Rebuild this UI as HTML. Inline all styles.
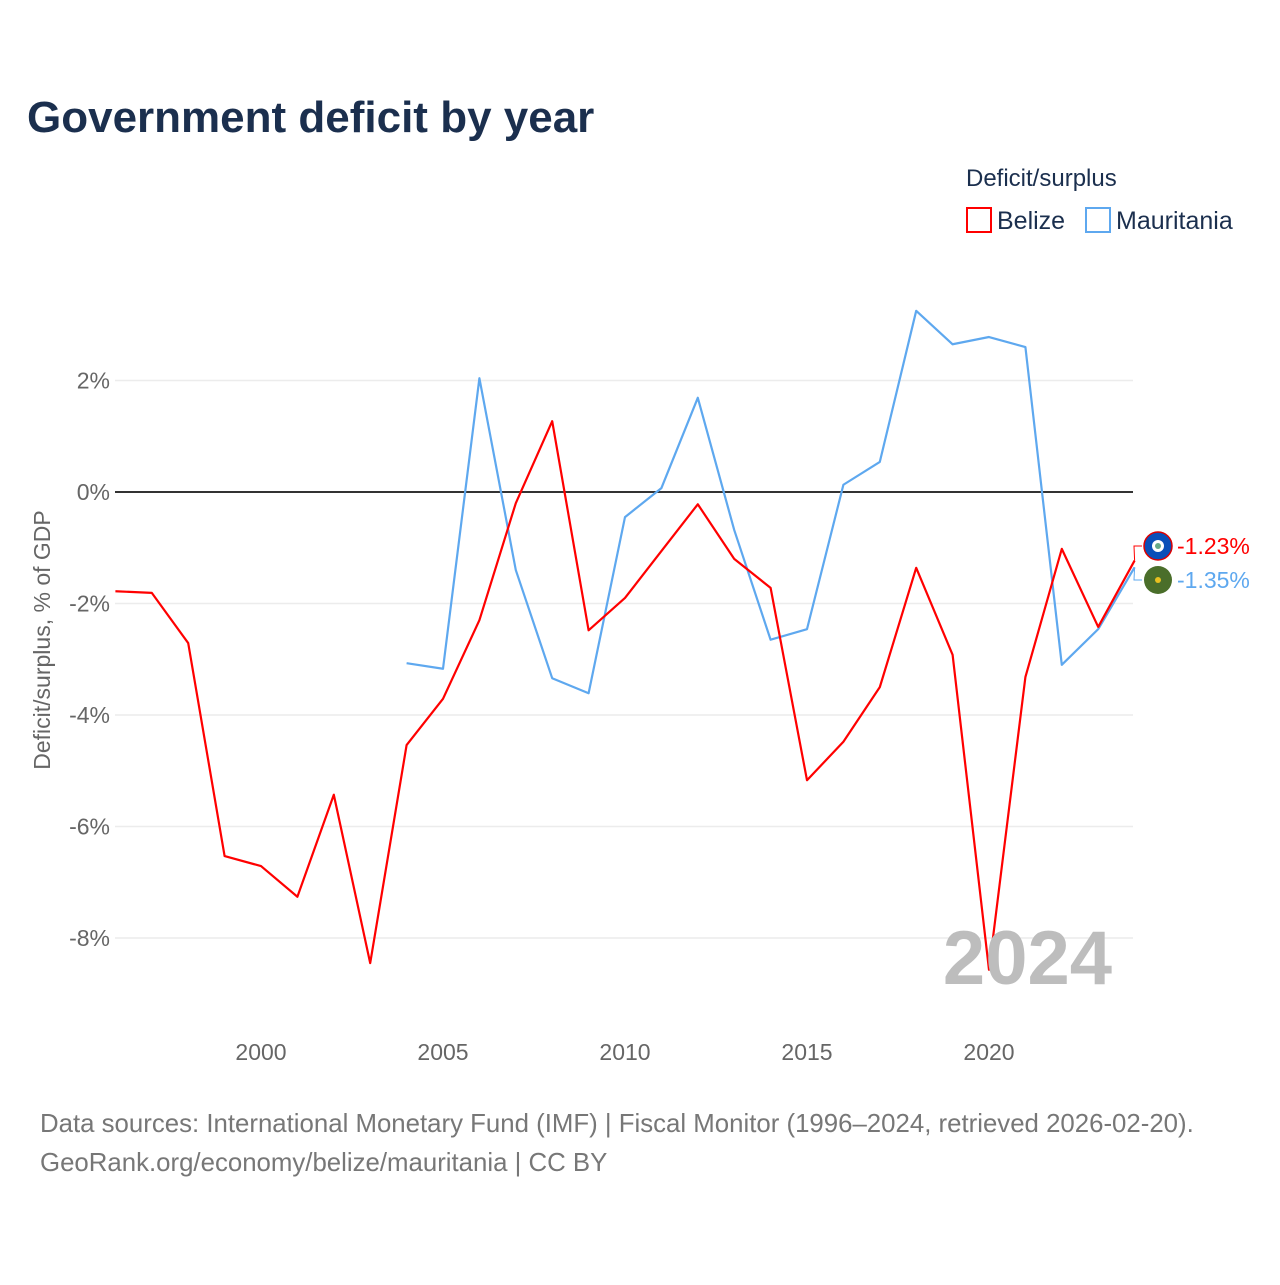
<!DOCTYPE html>
<html><head><meta charset="utf-8">
<style>
body{margin:0;background:#fff;font-family:"Liberation Sans",sans-serif;}
svg text{font-family:"Liberation Sans",sans-serif;}
</style></head>
<body>
<svg id="chart" width="1280" height="1280" viewBox="0 0 1280 1280">
<text x="27" y="132" font-size="44" font-weight="bold" fill="#1b2f4e">Government deficit by year</text>
<text x="966" y="186" font-size="24" fill="#1b2f4e">Deficit/surplus</text>
<g><rect x="967" y="208" width="24" height="24" fill="none" stroke="#ff0000" stroke-width="2"/><text x="997" y="229" font-size="25" fill="#1b2f4e">Belize</text></g>
<g><rect x="1086" y="208" width="24" height="24" fill="none" stroke="#5ea8ef" stroke-width="2"/><text x="1116" y="229" font-size="25" fill="#1b2f4e">Mauritania</text></g>
<text transform="translate(50,640) rotate(-90)" text-anchor="middle" font-size="23" fill="#666">Deficit/surplus, % of GDP</text>
<g id="grid"></g><g id="series"></g>
<text x="1112" y="984" text-anchor="end" font-size="76" font-weight="bold" fill="#bdbdbd">2024</text>
<text x="40" y="1132" font-size="25.8" fill="#777">Data sources: International Monetary Fund (IMF) | Fiscal Monitor (1996–2024, retrieved 2026-02-20).</text>
<text x="40" y="1171" font-size="25.8" fill="#777">GeoRank.org/economy/belize/mauritania | CC BY</text>
</svg>
<script>
const years=[];for(let y=1996;y<=2024;y++)years.push(y);
const belize=[-1.78,-1.81,-2.71,-6.53,-6.71,-7.26,-5.43,-8.45,-4.54,-3.71,-2.30,-0.20,1.27,-2.48,-1.90,-1.06,-0.22,-1.20,-1.72,-5.17,-4.48,-3.50,-1.36,-2.92,-8.57,-3.32,-1.02,-2.42,-1.23];
const mauritania=[null,null,null,null,null,null,null,null,-3.07,-3.17,2.04,-1.40,-3.34,-3.61,-0.45,0.07,1.69,-0.68,-2.65,-2.46,0.13,0.54,3.25,2.65,2.78,2.60,-3.10,-2.46,-1.35];
const yTicks=[2,0,-2,-4,-6,-8];
const xTicks=[2000,2005,2010,2015,2020];
const X=y=>115.4+(y-1996)*36.4;
const Y=v=>492-v*55.75;
const NS="http://www.w3.org/2000/svg";
function mk(t,a,p){const e=document.createElementNS(NS,t);for(const k in a)e.setAttribute(k,a[k]);p.appendChild(e);return e;}
const g=document.getElementById('grid'),s=document.getElementById('series');
yTicks.forEach(v=>{
 const l=mk('line',{x1:115,x2:1133,y1:Y(v),y2:Y(v),stroke:v===0?'#333':'#ececec','stroke-width':v===0?2:1.5},g);
 
 
 const t=mk('text',{x:110,y:Y(v)+8,'text-anchor':'end','font-size':23,fill:'#666'},g);t.textContent=v+'%';
 
 
});
xTicks.forEach(v=>{
 const t=mk('text',{x:X(v),y:1060,'text-anchor':'middle','font-size':23,fill:'#666'},g);t.textContent=v;
 
 
});
function line(data,color,name){
 let d='';data.forEach((v,i)=>{if(v===null)return;d+=(d?'L':'M')+X(years[i])+','+Y(v);});
 const p=mk('path',{d:d,fill:'none',stroke:color,'stroke-width':2.2,'stroke-linejoin':'round'},s);
 
 
}
line(mauritania,'#5ea8ef','mauritania-line');
line(belize,'#ff0000','belize-line');
const lb=belize[belize.length-1],lm=mauritania[mauritania.length-1];
const yb=546,ym=580;
mk('path',{d:`M${X(2024)},${Y(lb)} L1134,${yb} L1142,${yb}`,fill:'none',stroke:'#ff0000','stroke-width':1},s);
mk('path',{d:`M${X(2024)},${Y(lm)} L1134,${ym} L1142,${ym}`,fill:'none',stroke:'#5ea8ef','stroke-width':1},s);
const fb=mk('g',{},s);
mk('circle',{cx:1158,cy:yb,r:14,fill:'#0a4fb8',stroke:'#d00','stroke-width':1.5},fb);mk('circle',{cx:1158,cy:yb,r:6,fill:'#fff'},fb);mk('circle',{cx:1158,cy:yb,r:3,fill:'#6a8'},fb);
const fm=mk('g',{},s);
mk('circle',{cx:1158,cy:ym,r:14,fill:'#4a6e2a'},fm);mk('circle',{cx:1158,cy:ym,r:3,fill:'#e8c020'},fm);
const tb=mk('text',{x:1177,y:yb+8,'font-size':23,fill:'#ff0000'},s);tb.textContent=lb.toFixed(2)+'%';


const tm=mk('text',{x:1177,y:ym+8,'font-size':23,fill:'#5ea8ef'},s);tm.textContent=lm.toFixed(2)+'%';


</script>
</body></html>
